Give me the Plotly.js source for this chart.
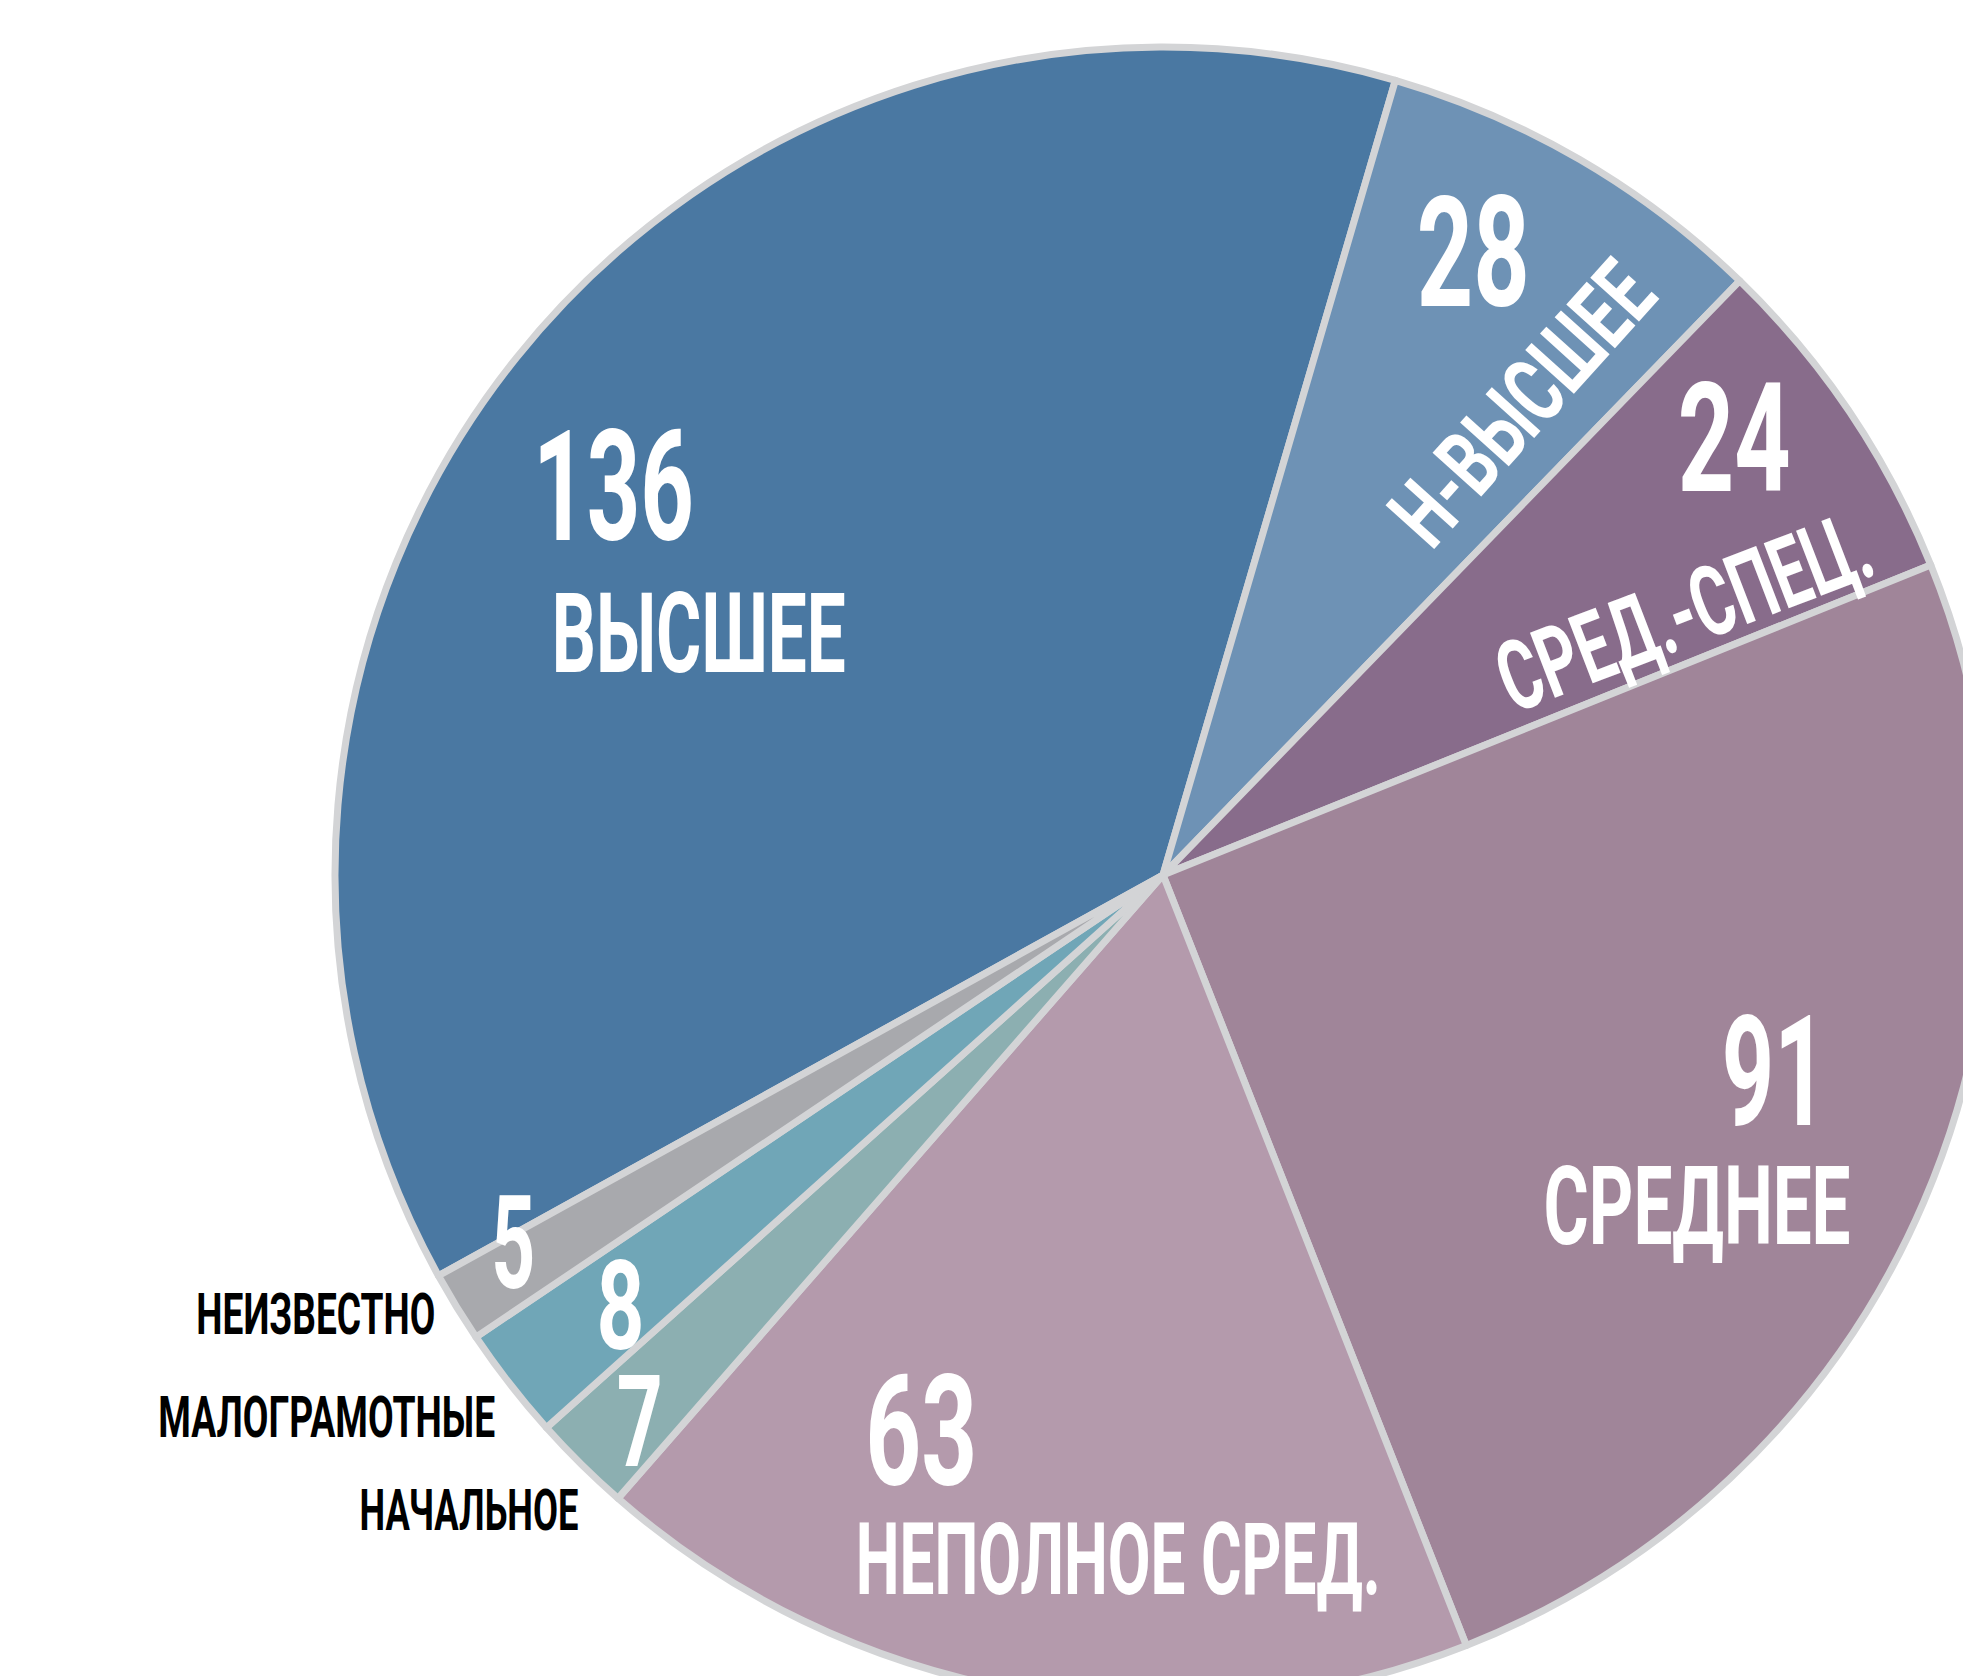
<!DOCTYPE html>
<html>
<head>
<meta charset="utf-8">
<script src="https://cdn.plot.ly/plotly-3.0.1.min.js"></script>
<style>
  html, body { margin: 0; padding: 0; background: #ffffff; overflow: hidden; }
  #chart { position: absolute; left: 0; top: 0; width: 2400px; height: 2000px; }
</style>
</head>
<body>
<div id="chart"></div>
<script>
// ---- data ----
const categories = ["ВЫСШЕЕ", "Н-ВЫСШЕЕ", "СРЕД.-СПЕЦ.", "СРЕДНЕЕ", "НЕПОЛНОЕ СРЕД.", "НАЧАЛЬНОЕ", "МАЛОГРАМОТНЫЕ", "НЕИЗВЕСТНО"];
const values = [136, 28, 24, 91, 63, 7, 8, 5];
const sliceColors = ["#4a78a2", "#6e92b5", "#886c8b", "#a08599", "#b49aac", "#8cafb1", "#70a6b7", "#a8a9ad"];

// ---- layout helpers (pixel geometry of the oversized canvas) ----
const W = 2400, H = 2000;
const CX = 1163, CY = 875, R = 828;
const px = x => x / W;
const py = y => 1 - y / H;

const FONT = "Roboto, Lato, DejaVu Sans Condensed, sans-serif";

// label placement: centre (px), font size, angle, rendered width (px)
const labelSpecs = [
  { i: 0, kind: "value", x: 613,  y: 487,  size: 154, angle: 0,   w: 161 },
  { i: 0, kind: "name",  x: 698,  y: 633,  size: 112, angle: 0,   w: 294 },
  { i: 1, kind: "value", x: 1473, y: 253,  size: 154, angle: 0,   w: 113 },
  { i: 1, kind: "name",  x: 1523, y: 404,  size: 92,  angle: -48, w: 342 },
  { i: 2, kind: "value", x: 1734, y: 439,  size: 152, angle: 0,   w: 113 },
  { i: 2, kind: "name",  x: 1684, y: 612,  size: 98,  angle: -21, w: 392 },
  { i: 3, kind: "value", x: 1774, y: 1072, size: 154, angle: 0,   w: 105 },
  { i: 3, kind: "name",  x: 1697, y: 1206, size: 110, angle: 0,   w: 307 },
  { i: 4, kind: "value", x: 921,  y: 1432, size: 154, angle: 0,   w: 112 },
  { i: 4, kind: "name",  x: 1118, y: 1559, size: 101, angle: 0,   w: 525 },
  { i: 7, kind: "value", x: 513,  y: 1243, size: 130, angle: 0,   w: 44 },
  { i: 6, kind: "value", x: 620,  y: 1306, size: 124, angle: 0,   w: 48 },
  { i: 5, kind: "value", x: 639,  y: 1422, size: 128, angle: 0,   w: 46 },
  { i: 7, kind: "outer", x: 316,  y: 1314, size: 58,  angle: 0,   w: 239 },
  { i: 6, kind: "outer", x: 326,  y: 1417, size: 57,  angle: 0,   w: 337 },
  { i: 5, kind: "outer", x: 469,  y: 1510, size: 57,  angle: 0,   w: 219 }
];

const annotations = labelSpecs.map(s => ({
  xref: "paper", yref: "paper",
  x: px(s.x), y: py(s.y),
  xanchor: "center", yanchor: "middle",
  showarrow: false,
  textangle: s.angle,
  text: s.kind === "value" ? String(values[s.i]) : categories[s.i],
  font: { family: FONT, size: s.size, color: s.kind === "outer" ? "#000000" : "#ffffff", weight: 700 }
}));

const trace = {
  type: "pie",
  labels: categories,
  values: values,
  sort: false,
  direction: "clockwise",
  rotation: 16.3 - 360 * values[0] / values.reduce((a, b) => a + b, 0),
  marker: { colors: sliceColors, line: { color: "#d3d4d6", width: 7 } },
  textinfo: "none",
  hoverinfo: "skip",
  domain: { x: [px(CX - R), px(CX + R)], y: [py(CY + R), py(CY - R)] }
};

const layout = {
  width: W, height: H,
  margin: { l: 0, r: 0, t: 0, b: 0 },
  paper_bgcolor: "#ffffff",
  showlegend: false,
  annotations: annotations
};

// condense the glyphs horizontally (the original uses a narrow display face)
function condense() {
  document.querySelectorAll("#chart .annotation-text").forEach((el, k) => {
    const spec = labelSpecs[k];
    if (!spec) return;
    const natural = el.getComputedTextLength();
    if (!natural) return;
    const s = spec.w / natural;
    const cx = parseFloat(el.getAttribute("x")) || 0;
    el.setAttribute("transform", `translate(${cx},0) scale(${s.toFixed(4)},1) translate(${-cx},0)`);
  });
}

Plotly.newPlot("chart", [trace], layout, { displayModeBar: false, staticPlot: true }).then(condense);
</script>
</body>
</html>
